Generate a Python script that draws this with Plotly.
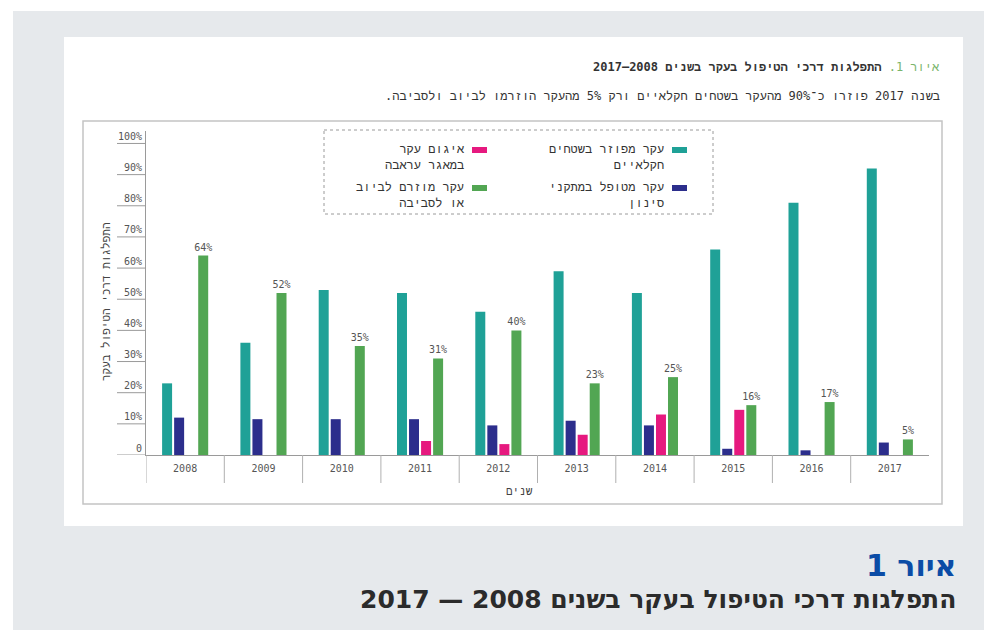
import plotly.graph_objects as go

# data
years = ['2008', '2009', '2010', '2011', '2012', '2013', '2014', '2015', '2016', '2017']
scattered = [23, 36, 53, 52, 46, 59, 52, 66, 81, 92]          # עקר מפוזר בשטחים חקלאיים
filtered = [12, 11.5, 11.5, 11.5, 9.5, 11, 9.5, 2, 1.5, 4]     # עקר מטופל במתקני סינון
pooled = [0, 0, 0, 4.5, 3.5, 6.5, 13, 14.5, 0, 0]              # איגום עקר במאגר עראבה
discharged = [64, 52, 35, 31, 40, 23, 25, 16, 17, 5]           # עקר מוזרם לביוב או לסביבה
series_names = [
    'עקר מפוזר בשטחים<br>חקלאיים',
    'עקר מטופל במתקני<br>סינון',
    'איגום עקר<br>במאגר עראבה',
    'עקר מוזרם לביוב<br>או לסביבה',
]
series_colors = ['#1fa197', '#2c2e8c', '#e6197f', '#52a653']
tick_vals = [0, 10, 20, 30, 40, 50, 60, 70, 80, 90, 100]
tick_text = ['0', '10%', '20%', '30%', '40%', '50%', '60%', '70%', '80%', '90%', '100%']

# the page body has an 8px margin, so the figure is drawn 8px in
OFF = 8
W, H = 992 - OFF, 630 - OFF
L, R, T, B = 146, 929, 131, 455   # plot area in window pixels
MONO = 'DejaVu Sans Mono, Liberation Mono'
HEAD = 'DejaVu Sans'


def px(x):
    return (x - L) / (R - L)


def py(y):
    return (B - y) / (B - T)


def rtl(s):
    return '<br>'.join('\u202b' + part + '\u202c' for part in s.split('<br>'))


fig = go.Figure()
for vals, name, color in zip([scattered, filtered, pooled, discharged], series_names, series_colors):
    is_green = vals is discharged
    fig.add_trace(go.Bar(
        x=years, y=vals, name=name,
        marker=dict(color=color, line=dict(width=0)),
        text=[f'{v}%' for v in vals] if is_green else None,
        textposition='outside' if is_green else 'none',
        constraintext='none',
        textfont=dict(family=MONO, size=10, color='#555555'),
        cliponaxis=False,
        showlegend=False,
    ))

shapes = [
    # gray page panel and white card
    dict(type='rect', xref='paper', yref='paper', x0=px(13), x1=px(992), y0=py(11), y1=py(630),
         fillcolor='#e6e9ec', line=dict(width=0), layer='below'),
    dict(type='rect', xref='paper', yref='paper', x0=px(64), x1=px(963), y0=py(37), y1=py(526),
         fillcolor='white', line=dict(width=0), layer='below'),
    # chart frame
    dict(type='rect', xref='paper', yref='paper', x0=px(83), x1=px(942), y0=py(121), y1=py(504),
         line=dict(color='#c4c4c4', width=1.5), layer='below'),
    # legend frame
    dict(type='rect', xref='paper', yref='paper', x0=px(324), x1=px(713), y0=py(130), y1=py(214),
         line=dict(color='#9a9a9a', width=1, dash='dot'), layer='below'),
]

# short tick lines under the y labels
for v in tick_vals:
    shapes.append(dict(type='line', xref='paper', yref='y', x0=px(117), x1=0, y0=v, y1=v,
                       line=dict(color='#9a9a9a', width=1)))

# category dividers under the baseline
for i in range(len(years)):
    shapes.append(dict(type='line', xref='x', yref='paper', x0=i - 0.5, x1=i - 0.5, y0=0, y1=py(483),
                       line=dict(color='#b0b0b0', width=1)))

# legend swatches + labels (RTL: swatch on the right)
legend_slots = [(687, 150, 666, 157), (687, 188, 666, 195), (487, 150, 467, 157), (487, 188, 467, 195)]
annotations = []
for (sx, sy, tx, ty), name, color in zip(legend_slots, series_names, series_colors):
    shapes.append(dict(type='rect', xref='paper', yref='paper', x0=px(sx - 15), x1=px(sx),
                       y0=py(sy - 3), y1=py(sy + 3), fillcolor=color, line=dict(width=0)))
    annotations.append(dict(xref='paper', yref='paper', x=px(tx), y=py(ty), xanchor='right', yanchor='middle',
                            text=rtl(name), align='right', showarrow=False,
                            font=dict(family=MONO, size=12, color='#333333')))

# y tick labels sitting above the tick lines
for v, t in zip(tick_vals, tick_text):
    annotations.append(dict(xref='paper', yref='y', x=px(144), y=v, xanchor='right', yanchor='middle',
                            yshift=7, text=t, showarrow=False,
                            font=dict(family=MONO, size=10, color='#555555')))

annotations += [
    dict(xref='paper', yref='paper', x=px(106), y=py(302), xanchor='center', yanchor='middle',
         textangle=-90, showarrow=False,
         text=rtl('התפלגות דרכי הטיפול בעקר'), font=dict(family=MONO, size=11, color='#444444')),
    dict(xref='paper', yref='paper', x=px(519), y=py(491), xanchor='center', yanchor='middle', showarrow=False,
         text=rtl('שנים'), font=dict(family=MONO, size=11, color='#444444')),
    dict(xref='paper', yref='paper', x=px(942), y=py(67), xanchor='right', yanchor='middle', showarrow=False,
         text=rtl('<span style="color:#79b46a">איור 1.</span> <b>התפלגות דרכי הטיפול בעקר בשנים 2008–2017</b>'),
         font=dict(family=MONO, size=12, color='#333333')),
    dict(xref='paper', yref='paper', x=px(942), y=py(96), xanchor='right', yanchor='middle', showarrow=False,
         text=rtl('בשנה 2017 פוזרו כ־90% מהעקר בשטחים חקלאיים ורק 5% מהעקר הוזרמו לביוב ולסביבה.'),
         font=dict(family=MONO, size=12, color='#333333')),
    dict(xref='paper', yref='paper', x=px(958), y=py(565), xanchor='right', yanchor='middle', showarrow=False,
         text=rtl('<b>איור 1</b>'), font=dict(family=HEAD, size=30, color='#0b4ca6')),
    dict(xref='paper', yref='paper', x=px(958), y=py(599), xanchor='right', yanchor='middle', showarrow=False,
         text=rtl('<b>התפלגות דרכי הטיפול בעקר בשנים 2008 — 2017</b>'),
         font=dict(family=HEAD, size=25, color='#2b2b2b')),
]

fig.update_layout(
    width=W, height=H,
    margin=dict(l=L - OFF, r=992 - R, t=T - OFF, b=630 - B),
    paper_bgcolor='white', plot_bgcolor='rgba(0,0,0,0)',
    barmode='group', bargap=0.385, bargroupgap=0.17,
    shapes=shapes, annotations=annotations,
    showlegend=False,
    font=dict(family=MONO, color='#444444'),
)
fig.update_xaxes(type='category', range=[-0.5, len(years) - 0.5], showline=True, linecolor='#9a9a9a',
                 linewidth=1, showgrid=False, zeroline=False, ticks='outside', ticklen=4,
                 tickcolor='rgba(0,0,0,0)', tickfont=dict(family=MONO, size=10, color='#555555'))
fig.update_yaxes(range=[0, 104], showline=True, linecolor='#9a9a9a', linewidth=1, showgrid=False,
                 zeroline=False, showticklabels=False, ticks='')

fig.write_html("out.html")
